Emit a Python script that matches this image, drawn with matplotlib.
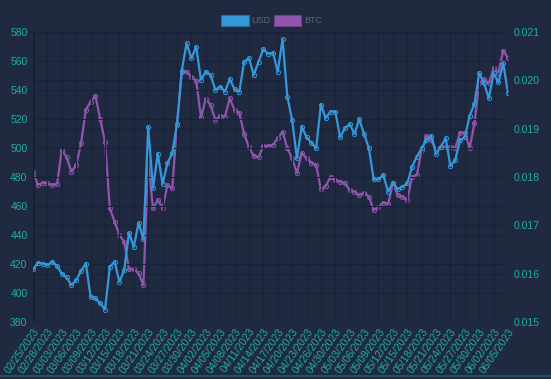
import numpy as np
import pandas as pd
import matplotlib
matplotlib.use("Agg")
import matplotlib.pyplot as plt
from matplotlib.patches import Rectangle
from matplotlib.lines import Line2D

# dates (one day missing at the end of april)
dates = pd.date_range("2023-02-25", "2023-06-05", freq="D")
dates = dates[dates != pd.Timestamp("2023-04-28")]
labels = [d.strftime("%m/%d/%Y") for d in dates]

usd = [416.3, 420.9, 420.4, 419.3, 421.6, 418.6, 413.5, 410.8, 405.5, 408.9,
       415.4, 420.4, 397.5, 396.3, 392.9, 388.7, 418.2, 421.6, 407.8, 415.8,
       441.6, 431.9, 448.5, 437.0, 514.3, 472.2, 495.9, 475.2, 489.4, 496.3,
       516.5, 553.3, 572.2, 561.8, 569.7, 546.9, 552.6, 550.3, 540.0, 542.3,
       538.8, 547.4, 540.5, 538.8, 559.5, 561.8, 550.3, 559.5, 568.0, 564.8,
       565.7, 552.6, 574.9, 535.4, 519.3, 492.9, 514.7, 507.4, 503.7, 499.8,
       529.9, 520.5, 525.1, 525.1, 507.4, 513.6, 516.5, 509.6, 519.8, 509.6,
       499.8, 478.4, 478.4, 481.4, 469.9, 476.1, 471.5, 473.3, 475.6, 487.1,
       494.0, 499.8, 505.5, 508.3, 495.9, 500.9, 506.7, 487.6, 491.7, 505.5,
       507.4, 522.1, 530.3, 551.5, 544.6, 534.2, 551.5, 545.1, 558.4, 537.7]

btc = [0.018110, 0.017834, 0.017882, 0.017869, 0.017834, 0.017855, 0.018558, 0.018407, 0.018110, 0.018248,
       0.018696, 0.019386, 0.019559, 0.019676, 0.019193, 0.018731, 0.017352, 0.017076, 0.016800, 0.016662,
       0.016089, 0.016089, 0.016007, 0.015765, 0.018317, 0.017352, 0.017524, 0.017352, 0.017834, 0.017765,
       0.019076, 0.020179, 0.020179, 0.020076, 0.019993, 0.019234, 0.019607, 0.019490, 0.019179, 0.019262,
       0.019248, 0.019628, 0.019386, 0.019317, 0.018890, 0.018614, 0.018434, 0.018407, 0.018641, 0.018641,
       0.018662, 0.018800, 0.018938, 0.018593, 0.018386, 0.018076, 0.018503, 0.018386, 0.018296, 0.018248,
       0.017745, 0.017814, 0.018007, 0.017938, 0.017903, 0.017869, 0.017731, 0.017696, 0.017627, 0.017676,
       0.017593, 0.017317, 0.017386, 0.017469, 0.017441, 0.017869, 0.017627, 0.017593, 0.017524, 0.018007,
       0.018041, 0.018558, 0.018848, 0.018765, 0.018572, 0.018627, 0.018614, 0.018627, 0.018593, 0.018917,
       0.018917, 0.018593, 0.019110, 0.019938, 0.020021, 0.019938, 0.020248, 0.020159, 0.020614, 0.020455]

bg = "#1f2a40"
grid_c = "#18223a"
tick_c = "#1fae9c"
blue = "#3498db"
purple = "#9055ad"

plt.rcParams["font.family"] = ["Liberation Sans", "DejaVu Sans"]

fig = plt.figure(figsize=(5.51, 3.79), dpi=100, facecolor=bg)
ax = fig.add_axes([0.060, 0.150, 0.862, 0.766], facecolor=bg)
ax2 = ax.twinx()

x = np.arange(len(labels))
ax2.plot(x, btc, color=purple, lw=1.6, marker="o", ms=3, mfc="none", mew=0.7, zorder=2)
ax.plot(x, usd, color=blue, lw=1.6, marker="o", ms=3, mfc="none", mew=0.7, zorder=3)
ax.set_zorder(ax2.get_zorder() + 1)
ax.patch.set_visible(False)
ax2.patch.set_visible(True)
ax2.patch.set_facecolor(bg)

ax.set_xlim(0, len(labels) - 1)
ax.set_ylim(380, 580)
ax.set_yticks(np.arange(380, 581, 20))
ax2.set_ylim(0.015, 0.021)
ax2.set_yticks(np.arange(0.015, 0.0211, 0.001))
ax2.set_yticklabels([f"{v:.3f}" for v in np.arange(0.015, 0.0211, 0.001)])

ticks = x[::3]
ax.set_xticks(ticks)
ax.set_xticklabels([labels[i] for i in ticks], rotation=55, ha="right", rotation_mode="anchor")

for a in (ax, ax2):
    a.tick_params(colors=tick_c, labelsize=7.5, length=0, pad=4)
    for s in a.spines.values():
        s.set_visible(False)
ax.tick_params(axis="x", pad=3)
ax.grid(True, color=grid_c, lw=0.8)
ax2.grid(True, axis="y", color=grid_c, lw=0.8)
ax2.set_axisbelow(True)
ax.axvline(0, color="#151d2c", lw=1)

# legend
fig.add_artist(Rectangle((221 / 551, 1 - 26 / 379), 28 / 551, 11 / 379, transform=fig.transFigure,
                         facecolor=blue, edgecolor="#2a6f9e", lw=0.8))
fig.text(251.5 / 551, 1 - 20.5 / 379, "USD", color="#5f6673", fontsize=6.5, va="center")
fig.add_artist(Rectangle((274 / 551, 1 - 26 / 379), 27 / 551, 11 / 379, transform=fig.transFigure,
                         facecolor=purple, edgecolor="#6f4088", lw=0.8))
fig.text(304 / 551, 1 - 20.5 / 379, "BTC", color="#5f6673", fontsize=6.5, va="center")

# bottom border line
fig.add_artist(Line2D([0, 1], [1 - 376 / 379, 1 - 376 / 379], transform=fig.transFigure,
                      color="#1d5d63", lw=1.2))

fig.savefig("out.png", dpi=100, facecolor=bg)
